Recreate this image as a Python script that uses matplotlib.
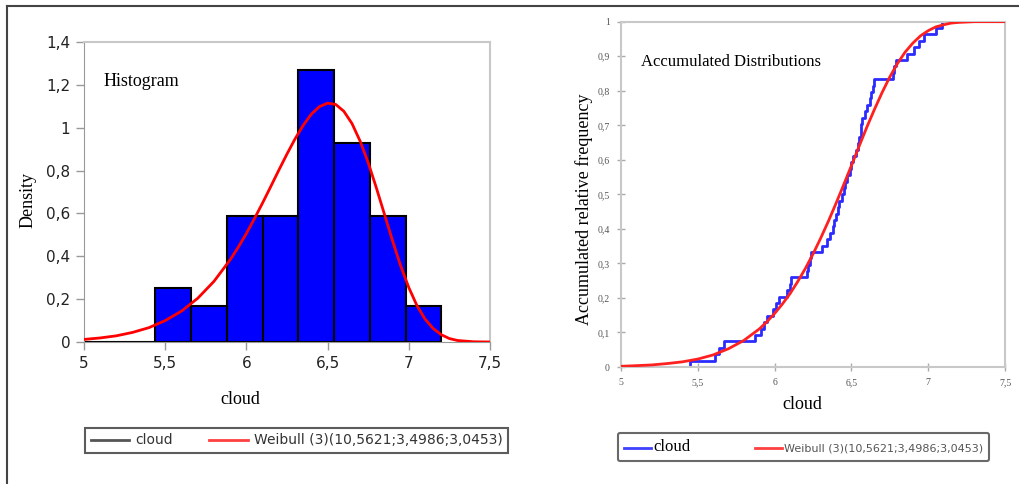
import numpy as np
import matplotlib
matplotlib.use('Agg')
import matplotlib.pyplot as plt
from matplotlib.lines import Line2D

# histogram bins (density) of cloud
bin_edges = [5.00, 5.22, 5.44, 5.66, 5.88, 6.10, 6.32, 6.54, 6.76, 6.98, 7.20]
bin_density = [0.0, 0.0, 0.25, 0.17, 0.59, 0.59, 1.27, 0.93, 0.59, 0.17]

# sorted cloud observations (54) for the empirical cdf
cloud_sorted = [5.45, 5.61, 5.64, 5.67, 5.87,
                5.91, 5.93, 5.95, 5.99, 6.01, 6.03, 6.08,
                6.10, 6.11, 6.21, 6.22, 6.23, 6.24, 6.31,
                6.34, 6.36, 6.38, 6.39, 6.40, 6.41, 6.42, 6.44, 6.45,
                6.46, 6.47, 6.49, 6.50, 6.51, 6.53,
                6.54, 6.55, 6.56, 6.565, 6.57, 6.59, 6.60, 6.62, 6.63, 6.64, 6.65,
                6.77, 6.78, 6.79, 6.86, 6.91, 6.94, 6.97,
                7.05, 7.09]

# fitted Weibull (3) curve
wb_x = [5.0, 5.1, 5.2, 5.3, 5.4, 5.5, 5.6, 5.7, 5.8, 5.9, 5.95, 6.0, 6.05,
        6.1, 6.15, 6.2, 6.25, 6.3, 6.35, 6.4, 6.45, 6.5, 6.55, 6.6, 6.65,
        6.7, 6.75, 6.8, 6.85, 6.9, 6.95, 7.0, 7.05, 7.1, 7.15, 7.2, 7.25,
        7.3, 7.4, 7.5]
wb_pdf = [0.012, 0.019, 0.029, 0.045, 0.067, 0.100, 0.144, 0.204, 0.283,
          0.384, 0.443, 0.507, 0.577, 0.650, 0.726, 0.803, 0.878, 0.949,
          1.012, 1.064, 1.099, 1.115, 1.109, 1.077, 1.020, 0.938, 0.837,
          0.720, 0.596, 0.472, 0.355, 0.254, 0.170, 0.107, 0.063, 0.034,
          0.016, 0.007, 0.001, 0.0]
wb_cdf = [0.002, 0.004, 0.006, 0.010, 0.015, 0.023, 0.035, 0.053, 0.077,
          0.110, 0.131, 0.155, 0.182, 0.212, 0.247, 0.285, 0.327, 0.373,
          0.422, 0.474, 0.528, 0.583, 0.639, 0.694, 0.746, 0.795, 0.840,
          0.879, 0.912, 0.938, 0.959, 0.974, 0.985, 0.991, 0.996, 0.998,
          0.999, 1.0, 1.0, 1.0]

legend_label = 'Weibull (3)(10,5621;3,4986;3,0453)'
serif = ['Liberation Serif', 'DejaVu Serif']

fig = plt.figure(figsize=(10.2, 4.84), dpi=100)

# outer frame lines (top and left)
fig.add_artist(Line2D([0.007, 1.0], [0.988, 0.988], color='#444444', lw=1.5))
fig.add_artist(Line2D([0.007, 0.007], [0.0, 0.988], color='#444444', lw=1.5))

# ---------------- left: histogram ----------------
ax1 = fig.add_axes([0.0824, 0.2934, 0.398, 0.6196])
widths = np.diff(bin_edges)
ax1.bar(bin_edges[:-1], bin_density, width=widths, align='edge',
        color='#0000ff', edgecolor='black', linewidth=1.5, zorder=2)
ax1.plot(wb_x, wb_pdf, color='#ff0000', lw=2, zorder=3)
ax1.set_xlim(5, 7.5)
ax1.set_ylim(0, 1.4)
ax1.set_xticks([5, 5.5, 6, 6.5, 7, 7.5])
ax1.set_xticklabels(['5', '5,5', '6', '6,5', '7', '7,5'])
ax1.set_yticks([0, 0.2, 0.4, 0.6, 0.8, 1.0, 1.2, 1.4])
ax1.set_yticklabels(['0', '0,2', '0,4', '0,6', '0,8', '1', '1,2', '1,4'])
ax1.tick_params(labelsize=11, colors='#222222', length=6, width=1,
                direction='out', pad=4)
ax1.tick_params(axis='both', color='#999999')
for s in ['left', 'bottom']:
    ax1.spines[s].set_color('#999999')
for s in ['top', 'right']:
    ax1.spines[s].set_color('#c8c8c8')
    ax1.spines[s].set_linewidth(1.5)
ax1.set_xlabel('cloud', family=serif, fontsize=13)
ax1.xaxis.set_label_coords(0.384, -0.163)
ax1.set_ylabel('Density', family=serif, fontsize=13)
ax1.yaxis.set_label_coords(-0.118, 0.473)
ax1.text(0.047, 0.867, 'Histogram', transform=ax1.transAxes, family=serif,
         fontsize=13, va='center', ha='left')

h1 = [Line2D([], [], color='#555555', lw=2),
      Line2D([], [], color='#ff4040', lw=2)]
leg1 = fig.legend(h1, ['cloud', legend_label], loc='lower left',
                  bbox_to_anchor=(0.0833, 0.064, 0.4147, 0.0537),
                  mode='expand', ncol=2, fontsize=10, frameon=True,
                  fancybox=False, handlelength=2.8, handletextpad=0.4,
                  borderaxespad=0, borderpad=0.4, columnspacing=1.5)
leg1.get_frame().set_edgecolor('#333333')
leg1.get_frame().set_linewidth(1.5)
for t in leg1.get_texts():
    t.set_color('#333333')

# ---------------- right: cumulative ----------------
ax2 = fig.add_axes([0.6088, 0.2417, 0.3765, 0.7135])
n = len(cloud_sorted)
ecdf_x = np.r_[cloud_sorted[0], cloud_sorted]
ecdf_y = np.r_[0, np.arange(1, n + 1) / n]
ax2.step(ecdf_x, ecdf_y, where='post', color='#2b2bff', lw=2, zorder=2)
ax2.plot(wb_x, wb_cdf, color='#ff2020', lw=2, zorder=3)
ax2.set_xlim(5, 7.5)
ax2.set_ylim(0, 1)
ax2.set_xticks([5, 5.5, 6, 6.5, 7, 7.5])
ax2.set_xticklabels(['5', '5,5', '6', '6,5', '7', '7,5'])
ax2.set_yticks(np.arange(0, 11) / 10)
ax2.set_yticklabels(['0', '0,1', '0,2', '0,3', '0,4', '0,5', '0,6', '0,7',
                     '0,8', '0,9', '1'])
ax2.tick_params(labelsize=7, colors='#555555', length=6, width=1,
                direction='inout', pad=5)
ax2.tick_params(axis='both', color='#aaaaaa')
for lab in ax2.get_xticklabels() + ax2.get_yticklabels():
    lab.set_family(serif)
for s in ['left', 'bottom', 'top', 'right']:
    ax2.spines[s].set_color('#c8c8c8')
    ax2.spines[s].set_linewidth(1.5)
ax2.set_xlabel('cloud', family=serif, fontsize=13)
ax2.xaxis.set_label_coords(0.471, -0.085)
ax2.set_ylabel('Accumulated relative frequency', family=serif, fontsize=13)
ax2.yaxis.set_label_coords(-0.074, 0.457)
ax2.text(0.052, 0.8825, 'Accumulated Distributions', transform=ax2.transAxes,
         family=serif, fontsize=12, va='center', ha='left')

h2 = [Line2D([], [], color='#4040ff', lw=2),
      Line2D([], [], color='#ff4040', lw=2)]
leg2 = fig.legend(h2, ['cloud', legend_label], loc='lower left',
                  bbox_to_anchor=(0.606, 0.0475, 0.3637, 0.0744),
                  mode='expand', ncol=2, fontsize=7, frameon=True,
                  fancybox=True, handlelength=2.8, handletextpad=0.2,
                  borderaxespad=0, borderpad=0.6, columnspacing=1.0)
leg2.get_frame().set_edgecolor('#444444')
leg2.get_frame().set_linewidth(1.5)
texts = leg2.get_texts()
texts[0].set_family(serif)
texts[0].set_fontsize(12)
texts[0].set_color('black')
texts[1].set_family(['Liberation Sans Narrow', 'DejaVu Sans'])
texts[1].set_color('#555555')
texts[1].set_fontsize(8)

fig.savefig('out.png', dpi=100)
